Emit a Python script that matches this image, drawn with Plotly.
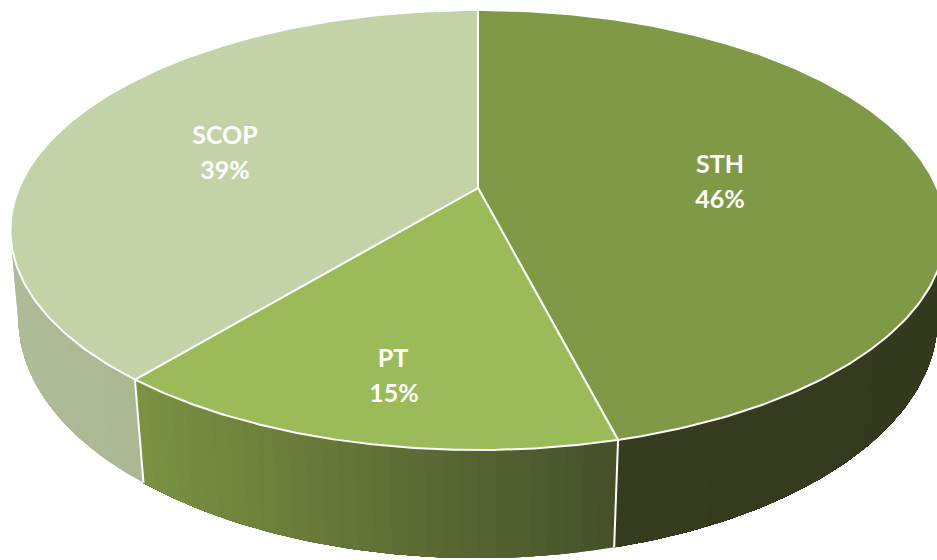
import numpy as np
import plotly.graph_objects as go

categories = ["STH", "PT", "SCOP"]
values = [46, 15, 39]
top_colors = ["#7F9947", "#9BBB59", "#C3D3A8"]
wall_left = [(54, 61, 32), (122, 146, 66), (173, 188, 151)]
wall_right = [(51, 58, 30), (70, 81, 42), (160, 172, 135)]
name_xy = [(720, 167), (393, 361), (225, 138)]
pct_xy = [(720, 202), (394, 396), (225, 173)]

W, H = 937, 560
CX = 478


def top_rim(theta):
    u, v = np.sin(theta), -np.cos(theta)
    d = 1 - 0.191 * v
    return CX + 459 * u / d, 188 + 212 * v / d


def bottom_rim(theta):
    u, v = np.sin(theta), -np.cos(theta)
    d = 1 - 0.18 * v
    return CX + 452 * u / d, 276 + 231.3 * v / d


def rgb(c):
    return "rgb(%d,%d,%d)" % tuple(int(round(x)) for x in c)


fig = go.Figure()
fractions = np.cumsum([0] + values) / sum(values)
edges = 2 * np.pi * fractions

# side wall: overlapping bands (each runs to the end of its slice), shaded left to right
for i in range(len(values)):
    a0, a1 = edges[i], edges[i + 1]
    n = max(16, int(values[i] * 2))
    ts = np.linspace(a0, a1, n + 1)
    xs = top_rim((ts[:-1] + ts[1:]) / 2)[0]
    lo, hi = xs.min(), xs.max()
    for j in range(n):
        sub = np.linspace(ts[j], a1, 2 * (n - j) + 2)
        tx, ty = top_rim(sub)
        bx, by = bottom_rim(sub)
        f = (xs[j] - lo) / (hi - lo)
        col = rgb(np.array(wall_left[i]) * (1 - f) + np.array(wall_right[i]) * f)
        fig.add_trace(go.Scatter(
            x=np.r_[tx, bx[::-1], tx[0]], y=np.r_[ty, by[::-1], ty[0]],
            mode="lines", fill="toself", fillcolor=col,
            line=dict(width=0), hoverinfo="skip", showlegend=False))

# white seams on the wall
for a in edges[1:3]:
    tx, ty = top_rim(a)
    bx, by = bottom_rim(a)
    fig.add_trace(go.Scatter(x=[tx, bx], y=[ty, by], mode="lines",
                             line=dict(color="white", width=2),
                             hoverinfo="skip", showlegend=False))

# top face
for i, cat in enumerate(categories):
    ts = np.linspace(edges[i], edges[i + 1], 200)
    rx, ry = top_rim(ts)
    fig.add_trace(go.Scatter(
        x=np.r_[CX, rx, CX], y=np.r_[188, ry, 188],
        mode="lines", fill="toself", fillcolor=top_colors[i],
        line=dict(color="white", width=2), name=cat,
        hoverinfo="skip", showlegend=False))

# labels
label_font = dict(family="Lato", size=25, color="white", weight="bold")
for i, cat in enumerate(categories):
    pct = round(100 * values[i] / sum(values))
    fig.add_trace(go.Scatter(
        x=[name_xy[i][0], pct_xy[i][0]], y=[name_xy[i][1], pct_xy[i][1]],
        mode="text", text=[cat, f"{pct}%"], textposition="middle center",
        textfont=label_font, hoverinfo="skip", showlegend=False))

fig.update_layout(
    width=W, height=H, margin=dict(l=0, r=0, t=0, b=0),
    paper_bgcolor="white", plot_bgcolor="white", showlegend=False,
    xaxis=dict(range=[0, W], visible=False, fixedrange=True),
    yaxis=dict(range=[H, 0], visible=False, fixedrange=True),
)
fig.write_html("out.html", config={"displayModeBar": False},
               post_script="document.body.style.margin='0';document.body.style.overflow='hidden';")
